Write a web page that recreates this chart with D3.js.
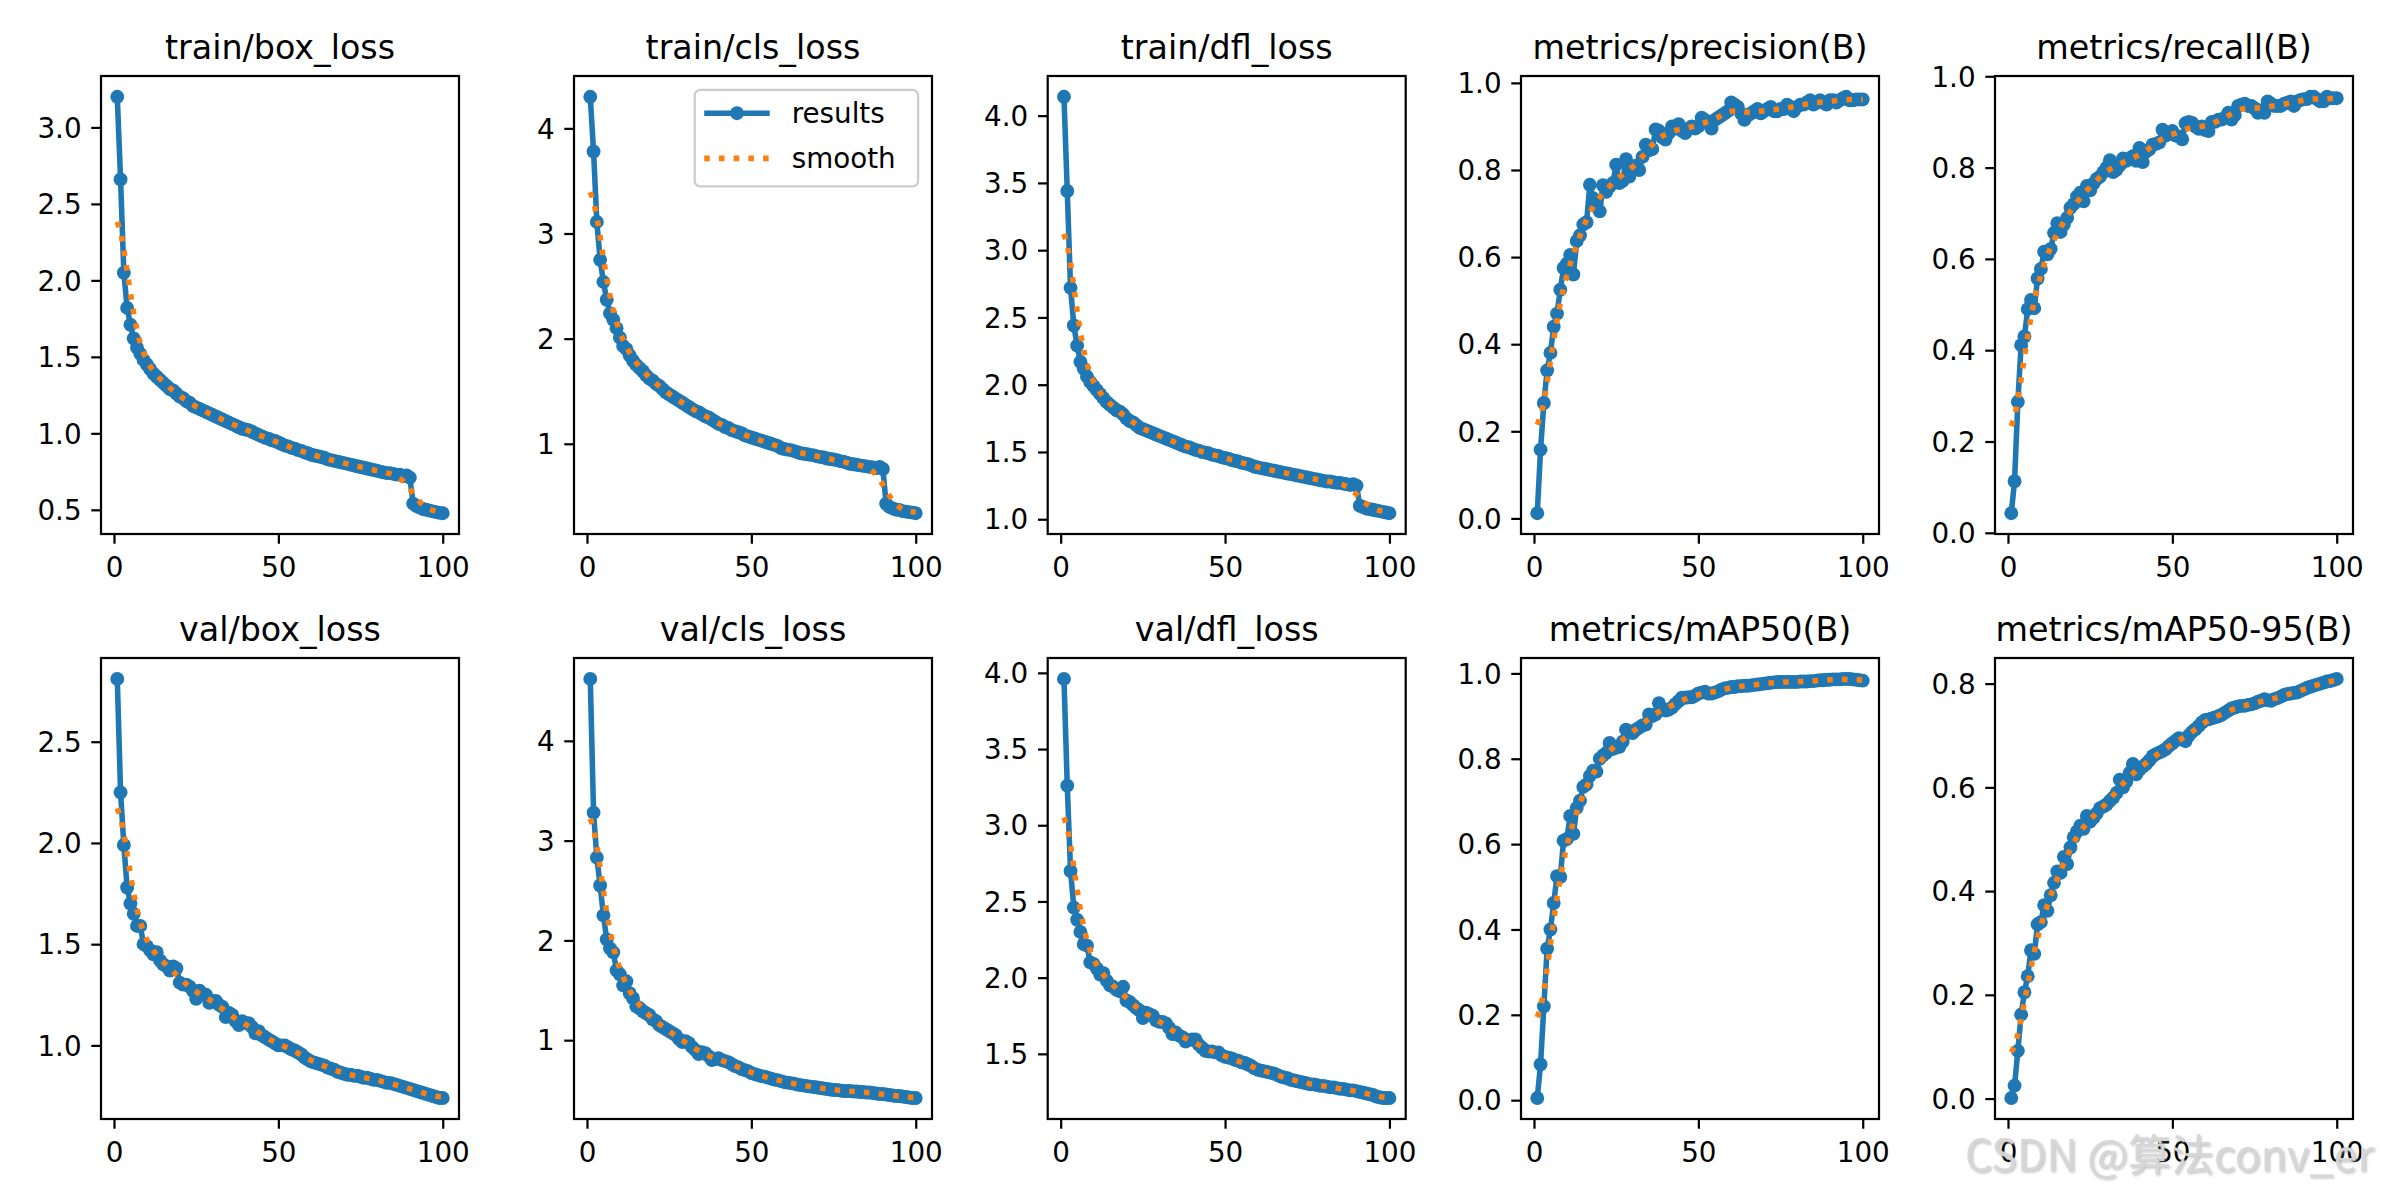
<!DOCTYPE html>
<html>
<head>
<meta charset="utf-8">
<script src="https://cdn.jsdelivr.net/npm/d3@7"></script>
<style>
  html, body { margin: 0; padding: 0; background: #ffffff; }
  svg { display: block; }
  text { font-family: "DejaVu Sans", sans-serif; }
</style>
</head>
<body>
<svg id="chart" width="2400" height="1200"></svg>
<script>
// ---------------- DATA ----------------
const epochs = d3.range(1, 101);

const titles = ["train/box_loss", "train/cls_loss", "train/dfl_loss", "metrics/precision(B)", "metrics/recall(B)",
                "val/box_loss", "val/cls_loss", "val/dfl_loss", "metrics/mAP50(B)", "metrics/mAP50-95(B)"];

const legendLabels = ["results", "smooth"];
const xTickValues = [0, 50, 100];
const watermarkText = "CSDN @算法conv_er";

const trainBoxLoss = [
  3.20,2.66,2.05,1.82,1.71,1.62,1.56,1.52,1.48,1.45,
  1.42,1.39,1.37,1.35,1.33,1.31,1.29,1.28,1.26,1.24,
  1.23,1.21,1.20,1.18,1.17,1.16,1.15,1.14,1.13,1.12,
  1.11,1.10,1.09,1.08,1.07,1.06,1.05,1.04,1.03,1.025,
  1.02,1.01,1.00,0.99,0.98,0.97,0.965,0.955,0.95,0.94,
  0.93,0.92,0.915,0.905,0.90,0.89,0.885,0.875,0.87,0.86,
  0.855,0.85,0.845,0.84,0.83,0.825,0.82,0.815,0.81,0.805,
  0.80,0.795,0.79,0.785,0.78,0.775,0.77,0.765,0.76,0.755,
  0.75,0.745,0.74,0.74,0.735,0.73,0.73,0.72,0.725,0.71,
  0.54,0.525,0.515,0.505,0.50,0.495,0.49,0.485,0.48,0.478];

const trainClsLoss = [
  4.30,3.78,3.11,2.75,2.54,2.37,2.24,2.18,2.10,2.01,
  1.93,1.90,1.84,1.79,1.75,1.72,1.69,1.65,1.62,1.60,
  1.57,1.55,1.52,1.49,1.47,1.45,1.43,1.41,1.39,1.37,
  1.35,1.33,1.31,1.30,1.28,1.26,1.25,1.23,1.21,1.19,
  1.18,1.16,1.15,1.13,1.12,1.11,1.10,1.08,1.07,1.06,
  1.05,1.04,1.03,1.02,1.01,1.00,0.99,0.98,0.96,0.95,
  0.945,0.94,0.93,0.92,0.91,0.905,0.90,0.895,0.89,0.88,
  0.875,0.87,0.86,0.855,0.85,0.845,0.835,0.83,0.82,0.81,
  0.805,0.80,0.795,0.79,0.785,0.78,0.775,0.77,0.78,0.76,
  0.43,0.40,0.385,0.375,0.37,0.36,0.355,0.35,0.345,0.34];

const trainDflLoss = [
  4.14,3.44,2.72,2.44,2.29,2.17,2.12,2.06,2.02,1.99,
  1.96,1.93,1.90,1.87,1.85,1.83,1.81,1.80,1.78,1.75,
  1.73,1.72,1.70,1.68,1.67,1.66,1.65,1.64,1.63,1.62,
  1.61,1.60,1.59,1.58,1.57,1.56,1.55,1.54,1.535,1.525,
  1.515,1.51,1.50,1.495,1.49,1.48,1.475,1.47,1.46,1.455,
  1.45,1.44,1.435,1.43,1.42,1.415,1.41,1.40,1.39,1.385,
  1.38,1.375,1.37,1.365,1.36,1.355,1.35,1.345,1.34,1.335,
  1.33,1.325,1.32,1.315,1.31,1.305,1.30,1.295,1.29,1.285,
  1.28,1.28,1.275,1.27,1.27,1.265,1.26,1.255,1.26,1.25,
  1.10,1.09,1.08,1.075,1.07,1.065,1.06,1.055,1.05,1.045];

const precisionB = [
  0.012,0.158,0.265,0.340,0.380,0.440,0.470,0.525,0.575,0.585,
  0.605,0.560,0.637,0.650,0.675,0.680,0.766,0.735,0.720,0.705,
  0.765,0.750,0.762,0.770,0.812,0.770,0.775,0.825,0.785,0.800,
  0.810,0.800,0.830,0.858,0.845,0.848,0.893,0.890,0.875,0.870,
  0.885,0.900,0.895,0.905,0.890,0.885,0.895,0.900,0.895,0.900,
  0.920,0.915,0.910,0.895,0.915,0.920,0.925,0.930,0.935,0.955,
  0.950,0.945,0.930,0.915,0.925,0.930,0.935,0.940,0.930,0.935,
  0.940,0.945,0.935,0.935,0.940,0.940,0.950,0.945,0.935,0.945,
  0.950,0.950,0.955,0.960,0.950,0.955,0.960,0.955,0.950,0.960,
  0.960,0.955,0.960,0.965,0.968,0.960,0.960,0.962,0.962,0.962];

const recallB = [
  0.043,0.113,0.287,0.411,0.430,0.490,0.510,0.492,0.557,0.578,
  0.616,0.610,0.622,0.657,0.678,0.659,0.675,0.690,0.712,0.720,
  0.737,0.745,0.726,0.760,0.750,0.765,0.775,0.780,0.790,0.800,
  0.816,0.790,0.795,0.805,0.820,0.815,0.820,0.825,0.815,0.843,
  0.812,0.835,0.840,0.850,0.852,0.855,0.883,0.870,0.875,0.880,
  0.870,0.868,0.862,0.897,0.900,0.898,0.890,0.885,0.890,0.882,
  0.880,0.900,0.900,0.905,0.905,0.910,0.920,0.905,0.915,0.935,
  0.938,0.940,0.935,0.935,0.930,0.920,0.925,0.920,0.945,0.940,
  0.935,0.935,0.935,0.940,0.942,0.945,0.935,0.945,0.948,0.950,
  0.950,0.955,0.955,0.950,0.945,0.945,0.955,0.952,0.952,0.952];

const valBoxLoss = [
  2.81,2.25,1.99,1.78,1.70,1.65,1.59,1.59,1.50,1.49,
  1.47,1.45,1.46,1.42,1.40,1.39,1.37,1.39,1.38,1.31,
  1.30,1.30,1.29,1.27,1.23,1.27,1.25,1.25,1.21,1.22,
  1.22,1.20,1.19,1.14,1.16,1.15,1.12,1.10,1.12,1.11,
  1.11,1.09,1.06,1.07,1.05,1.04,1.03,1.02,1.01,1.00,
  1.00,1.00,0.99,0.98,0.975,0.965,0.955,0.94,0.93,0.92,
  0.915,0.91,0.905,0.90,0.89,0.885,0.88,0.87,0.865,0.86,
  0.855,0.855,0.85,0.85,0.845,0.84,0.84,0.835,0.83,0.83,
  0.825,0.82,0.815,0.815,0.81,0.805,0.80,0.795,0.79,0.785,
  0.78,0.775,0.77,0.765,0.76,0.755,0.75,0.745,0.74,0.74];

const valClsLoss = [
  4.62,3.28,2.83,2.55,2.25,2.01,1.92,1.88,1.70,1.66,
  1.55,1.59,1.47,1.42,1.34,1.32,1.29,1.27,1.25,1.21,
  1.19,1.15,1.13,1.11,1.09,1.07,1.05,1.01,0.98,0.99,
  0.97,0.93,0.90,0.86,0.88,0.87,0.84,0.80,0.81,0.82,
  0.80,0.79,0.78,0.76,0.74,0.73,0.71,0.70,0.69,0.67,
  0.66,0.65,0.64,0.635,0.625,0.615,0.605,0.60,0.59,0.58,
  0.575,0.57,0.565,0.555,0.55,0.545,0.54,0.535,0.53,0.525,
  0.52,0.515,0.51,0.505,0.50,0.50,0.495,0.49,0.49,0.49,
  0.485,0.485,0.48,0.48,0.475,0.475,0.47,0.465,0.46,0.46,
  0.455,0.45,0.445,0.44,0.44,0.435,0.43,0.425,0.42,0.42];

const valDflLoss = [
  3.96,3.26,2.70,2.46,2.38,2.30,2.22,2.21,2.10,2.09,
  2.06,2.02,2.03,1.98,1.95,1.94,1.92,1.91,1.94,1.85,
  1.84,1.82,1.80,1.785,1.735,1.77,1.76,1.75,1.72,1.71,
  1.71,1.70,1.67,1.63,1.64,1.62,1.61,1.58,1.59,1.595,
  1.595,1.56,1.54,1.52,1.515,1.515,1.51,1.51,1.49,1.48,
  1.475,1.47,1.46,1.455,1.445,1.44,1.43,1.42,1.405,1.395,
  1.39,1.385,1.38,1.375,1.37,1.36,1.35,1.345,1.34,1.33,
  1.325,1.32,1.315,1.31,1.305,1.30,1.30,1.295,1.29,1.29,
  1.285,1.28,1.28,1.275,1.27,1.27,1.265,1.26,1.26,1.255,
  1.25,1.245,1.24,1.235,1.23,1.22,1.215,1.21,1.21,1.21];

const mAP50B = [
  0.005,0.084,0.220,0.355,0.400,0.462,0.525,0.523,0.608,0.612,
  0.666,0.624,0.685,0.702,0.734,0.740,0.760,0.772,0.770,0.800,
  0.808,0.814,0.837,0.823,0.826,0.828,0.840,0.868,0.862,0.860,
  0.868,0.873,0.878,0.880,0.904,0.900,0.904,0.930,0.918,0.913,
  0.915,0.920,0.928,0.935,0.943,0.943,0.944,0.944,0.948,0.953,
  0.955,0.957,0.953,0.953,0.955,0.958,0.962,0.965,0.966,0.968,
  0.968,0.970,0.970,0.971,0.971,0.972,0.973,0.974,0.975,0.976,
  0.977,0.978,0.979,0.980,0.980,0.980,0.980,0.980,0.980,0.980,
  0.981,0.981,0.981,0.982,0.982,0.983,0.984,0.984,0.985,0.985,
  0.986,0.986,0.986,0.987,0.987,0.987,0.986,0.985,0.984,0.983];

const mAP5095B = [
  0.001,0.025,0.092,0.162,0.205,0.236,0.286,0.279,0.336,0.340,
  0.373,0.362,0.392,0.416,0.438,0.435,0.466,0.452,0.484,0.504,
  0.515,0.526,0.520,0.545,0.534,0.541,0.550,0.560,0.563,0.567,
  0.574,0.580,0.589,0.615,0.600,0.611,0.628,0.645,0.625,0.634,
  0.640,0.645,0.652,0.660,0.664,0.667,0.670,0.674,0.680,0.685,
  0.690,0.695,0.692,0.689,0.700,0.707,0.712,0.718,0.725,0.730,
  0.731,0.733,0.735,0.737,0.740,0.744,0.748,0.752,0.754,0.756,
  0.757,0.757,0.759,0.760,0.762,0.765,0.767,0.770,0.768,0.767,
  0.770,0.772,0.775,0.778,0.780,0.781,0.782,0.783,0.786,0.789,
  0.792,0.794,0.796,0.798,0.800,0.802,0.804,0.805,0.807,0.809];

const seriesList = [trainBoxLoss, trainClsLoss, trainDflLoss, precisionB, recallB,
                    valBoxLoss, valClsLoss, valDflLoss, mAP50B, mAP5095B];

const yTickValues = [
  [0.5, 1.0, 1.5, 2.0, 2.5, 3.0],
  [1, 2, 3, 4],
  [1.0, 1.5, 2.0, 2.5, 3.0, 3.5, 4.0],
  [0.0, 0.2, 0.4, 0.6, 0.8, 1.0],
  [0.0, 0.2, 0.4, 0.6, 0.8, 1.0],
  [1.0, 1.5, 2.0, 2.5],
  [1, 2, 3, 4],
  [1.5, 2.0, 2.5, 3.0, 3.5, 4.0],
  [0.0, 0.2, 0.4, 0.6, 0.8, 1.0],
  [0.0, 0.2, 0.4, 0.6, 0.8]
];
const yTickFormats = [".1f", "d", ".1f", ".1f", ".1f", ".1f", "d", ".1f", ".1f", ".1f"];

// ---------------- LAYOUT / STYLE ----------------
const PT = 200 / 72;
const colLefts = [101, 574, 1047.7, 1521, 1995];
const axW = 358;
const rowTops = [76, 658];
const rowBottoms = [534, 1119];
const blue = "#1f77b4", orange = "#ff7f0e";
const tickFont = 10 * PT, titleFont = 12 * PT;
const tickLen = 3.5 * PT, tickPad = 3.5 * PT, spineW = 0.8 * PT;

// Gaussian smoothing (sigma = 3, reflect mode), as used for the "smooth" curve
function gaussianFilter1d(y, sigma) {
  const radius = Math.round(4 * sigma);
  const w = d3.range(-radius, radius + 1).map(k => Math.exp(-0.5 * k * k / (sigma * sigma)));
  const ws = d3.sum(w);
  const n = y.length;
  const idx = i => { while (i < 0 || i >= n) { if (i < 0) i = -i - 1; if (i >= n) i = 2 * n - i - 1; } return i; };
  return y.map((_, i) => {
    let s = 0;
    for (let k = -radius; k <= radius; k++) s += w[k + radius] * y[idx(i + k)];
    return s / ws;
  });
}

const svg = d3.select("#chart");
svg.append("rect").attr("width", 2400).attr("height", 1200).attr("fill", "#fff");
const defs = svg.append("defs");

seriesList.forEach((vals, i) => {
  const row = Math.floor(i / 5), col = i % 5;
  const left = colLefts[col], top = rowTops[row], bottom = rowBottoms[row];
  const smooth = gaussianFilter1d(vals, 3);

  const xMin = d3.min(epochs), xMax = d3.max(epochs);
  const xPad = (xMax - xMin) * 0.05;
  const x = d3.scaleLinear().domain([xMin - xPad, xMax + xPad]).range([left, left + axW]);
  const yMin = Math.min(d3.min(vals), d3.min(smooth)), yMax = Math.max(d3.max(vals), d3.max(smooth));
  const yPad = (yMax - yMin) * 0.05;
  const y = d3.scaleLinear().domain([yMin - yPad, yMax + yPad]).range([bottom, top]);

  const g = svg.append("g");
  const clipId = "clip" + i;
  defs.append("clipPath").attr("id", clipId)
    .append("rect").attr("x", left).attr("y", top).attr("width", axW).attr("height", bottom - top);

  const plot = g.append("g").attr("clip-path", `url(#${clipId})`);
  const pts = epochs.map((e, k) => [e, vals[k]]);
  const spts = epochs.map((e, k) => [e, smooth[k]]);
  const line = d3.line().x(d => x(d[0])).y(d => y(d[1]));

  plot.append("path").attr("d", line(pts)).attr("fill", "none")
    .attr("stroke", blue).attr("stroke-width", 2 * PT).attr("stroke-linejoin", "round").attr("stroke-linecap", "round");
  plot.selectAll("circle.m").data(pts).join("circle").attr("class", "m")
    .attr("cx", d => x(d[0])).attr("cy", d => y(d[1])).attr("r", 2.5 * PT).attr("fill", blue);
  plot.append("path").attr("d", line(spts)).attr("fill", "none")
    .attr("stroke", orange).attr("stroke-width", 2 * PT)
    .attr("stroke-dasharray", `${2 * PT} ${1.65 * 2 * PT}`).attr("stroke-linecap", "butt");

  // axes
  const xAxis = d3.axisBottom(x).tickValues(xTickValues).tickSize(tickLen).tickPadding(tickPad).tickFormat(d3.format("d"));
  const gx = g.append("g").attr("transform", `translate(0,${bottom})`).call(xAxis);
  const yAxis = d3.axisLeft(y).tickValues(yTickValues[i]).tickSize(tickLen).tickPadding(tickPad).tickFormat(d3.format(yTickFormats[i]));
  const gy = g.append("g").attr("transform", `translate(${left},0)`).call(yAxis);
  [gx, gy].forEach(a => {
    a.select(".domain").remove();
    a.selectAll(".tick line").attr("stroke", "#000").attr("stroke-width", spineW);
    a.selectAll(".tick text").attr("fill", "#000").style("font-size", tickFont + "px")
      .style("font-family", "'DejaVu Sans', sans-serif");
  });
  gx.selectAll(".tick text").attr("dy", "0.86em");
  gy.selectAll(".tick text").attr("dy", "0.35em");

  // spines
  g.append("rect").attr("x", left).attr("y", top).attr("width", axW).attr("height", bottom - top)
    .attr("fill", "none").attr("stroke", "#000").attr("stroke-width", spineW);

  // title
  g.append("text").attr("x", left + axW / 2).attr("y", top - 6 * PT).attr("fill", "#000")
    .attr("text-anchor", "middle").style("font-size", titleFont + "px").text(titles[i]);

  // legend on second panel
  if (i === 1) {
    const lg = g.append("g");
    const bx = left + axW - 0.5 * tickFont - 223.4, by = top + 0.5 * tickFont;
    lg.append("rect").attr("x", bx).attr("y", by).attr("width", 223.4).attr("height", 96.5)
      .attr("rx", 5.5).attr("ry", 5.5).attr("fill", "#fff").attr("fill-opacity", 0.8)
      .attr("stroke", "#cccccc").attr("stroke-width", spineW);
    const rowsY = [by + 23.3, by + 68.5];
    const hx0 = bx + 9.5, hx1 = bx + 75;
    lg.append("line").attr("x1", hx0).attr("x2", hx1).attr("y1", rowsY[0]).attr("y2", rowsY[0])
      .attr("stroke", blue).attr("stroke-width", 2 * PT);
    lg.append("circle").attr("cx", (hx0 + hx1) / 2).attr("cy", rowsY[0]).attr("r", 2.5 * PT).attr("fill", blue);
    lg.append("line").attr("x1", hx0).attr("x2", hx1).attr("y1", rowsY[1]).attr("y2", rowsY[1])
      .attr("stroke", orange).attr("stroke-width", 2 * PT)
      .attr("stroke-dasharray", `${2 * PT} ${1.65 * 2 * PT}`);
    legendLabels.forEach((lab, k) => {
      lg.append("text").attr("x", bx + 97).attr("y", rowsY[k]).attr("dy", "0.35em").attr("fill", "#000")
        .style("font-size", tickFont + "px").text(lab);
    });
  }
});

// watermark: light grey text with a soft grey shadow, as in the reference
const shadow = defs.append("filter").attr("id", "wmShadow").attr("x", "-5%").attr("y", "-30%").attr("width", "110%").attr("height", "160%");
shadow.append("feDropShadow").attr("dx", 1.5).attr("dy", 1.5).attr("stdDeviation", 1)
  .attr("flood-color", "#8a8a8a").attr("flood-opacity", 0.55);
svg.append("text").attr("x", 1965).attr("y", 1171)
  .style("font-family", "'Noto Sans CJK SC', 'DejaVu Sans', sans-serif").style("font-size", "43px")
  .style("fill", "#d6d6d6").style("fill-opacity", 0.95)
  .attr("filter", "url(#wmShadow)")
  .text(watermarkText);
</script>
</body>
</html>
